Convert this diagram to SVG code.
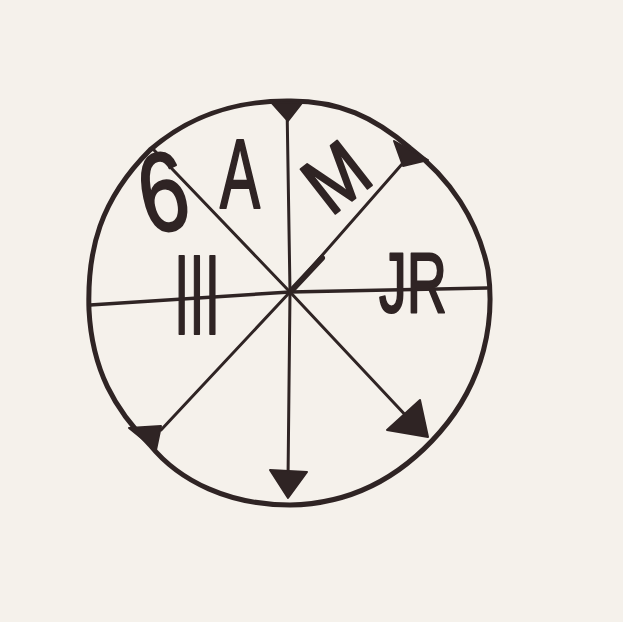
<svg xmlns="http://www.w3.org/2000/svg" width="623" height="622" viewBox="0 0 623 622">
<style>
.ink{fill:none;stroke:#2f2424;stroke-linecap:round;stroke-linejoin:round}
.blot{fill:#2f2424;stroke:#2f2424;stroke-width:2;stroke-linejoin:round}
.lbl{font-family:"Liberation Sans",Arial,sans-serif;fill:#2f2424;stroke:#2f2424;stroke-width:2.2;stroke-linejoin:round}
</style>
<rect x="0" y="0" width="623" height="622" fill="#f5f1eb"/>
<g id="wheel">
<path class="ink" stroke-width="5" d="M287,101 C340,100 375,118 410,148 C450,178 478,220 488,270 C495,320 485,380 440,432 C400,478 350,504 290,505 C230,505 180,482 150,445 C115,410 92,370 89,310 C87,250 100,200 150,150 C190,115 235,101 287,101 Z"/>
</g>
<g id="connectors">
<path class="ink" stroke-width="3" d="M290,292 L287,104"/>
<path class="ink" stroke-width="3" d="M290,292 L153,149"/>
<path class="ink" stroke-width="3" d="M290,292 L403,163"/>
<path class="ink" stroke-width="6" d="M293,289 L322,258"/>
<path class="ink" stroke-width="3.5" d="M90,305 L290,292 L487,288"/>
<path class="ink" stroke-width="3" d="M290,292 L161,430"/>
<path class="ink" stroke-width="3" d="M290,292 L288,480"/>
<path class="ink" stroke-width="3" d="M290,292 L410,420"/>
<polygon class="blot" points="271,102 302,103 288,121"/>
<polygon class="blot" points="394,141 428,160 403,166"/>
<polygon class="blot" points="129,428 161,426 156,450"/>
<polygon class="blot" points="270,470 307,472 288,498"/>
<polygon class="blot" points="387,430 420,400 428,437"/>
</g>
<g id="labels">
<text class="lbl" x="139" y="231" font-size="112" textLength="48" lengthAdjust="spacingAndGlyphs" transform="rotate(-12 162 192)">6</text>
<text class="lbl" x="220" y="208" font-size="98" textLength="40" lengthAdjust="spacingAndGlyphs">A</text>
<text class="lbl" x="308" y="205" font-size="82" textLength="58" lengthAdjust="spacingAndGlyphs" transform="rotate(-38 337 178)">M</text>
<text class="lbl" x="379" y="312" font-size="86" textLength="68" lengthAdjust="spacingAndGlyphs">JR</text>
<text class="lbl" x="174" y="334" font-size="114" textLength="46" lengthAdjust="spacingAndGlyphs">III</text>
</g>
</svg>
